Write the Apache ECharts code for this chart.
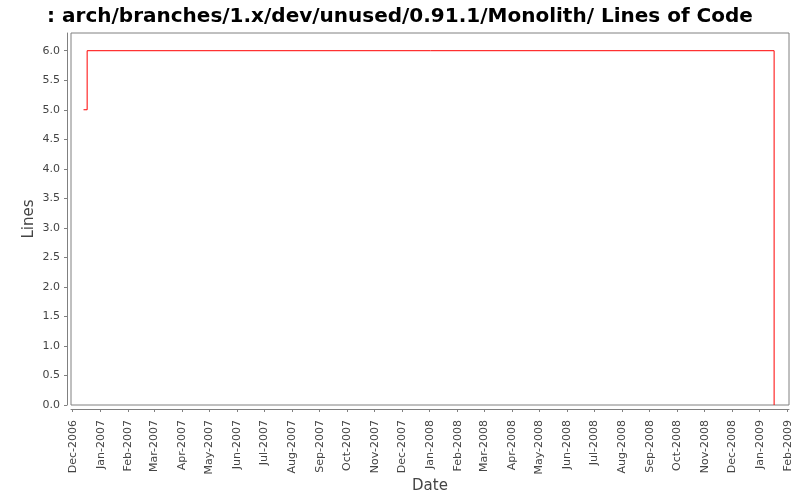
<!DOCTYPE html>
<html>
<head>
<meta charset="utf-8">
<script src="https://cdn.jsdelivr.net/npm/echarts@6/dist/echarts.min.js"></script>
<style>html,body{margin:0;padding:0;background:#fff;}#c{width:800px;height:500px;}</style>
</head>
<body>
<div id="c"></div>
<script>
var titleText = ': arch/branches/1.x/dev/unused/0.91.1/Monolith/ Lines of Code';
var dates = ['2006-12-13', '2006-12-17', '2009-01-17'];
var lines = [5, 6, 0];
var yTicks = [0, 0.5, 1, 1.5, 2, 2.5, 3, 3.5, 4, 4.5, 5, 5.5, 6];
var monthTicks = ['2006-12','2007-01','2007-02','2007-03','2007-04','2007-05','2007-06','2007-07','2007-08','2007-09','2007-10','2007-11','2007-12','2008-01','2008-02','2008-03','2008-04','2008-05','2008-06','2008-07','2008-08','2008-09','2008-10','2008-11','2008-12','2009-01','2009-02'];
var monthNames = ['Jan','Feb','Mar','Apr','May','Jun','Jul','Aug','Sep','Oct','Nov','Dec'];

function ts(s) {
  var p = s.split('-').map(Number);
  return new Date(p[0], p[1] - 1, p[2] || 1).getTime();
}
var tickTs = monthTicks.map(ts);
var seriesData = dates.map(function (d, i) { return [ts(d), lines[i]]; });
var xMin = new Date(2006, 10, 29, 2).getTime();
var xMax = new Date(2009, 1, 2, 12).getTime();

var chart = echarts.init(document.getElementById('c'), null, {renderer: 'canvas'});
chart.setOption({
  animation: false,
  backgroundColor: '#ffffff',
  title: {
    text: titleText,
    left: 'center',
    top: 2,
    textStyle: {fontFamily: 'DejaVu Sans', fontWeight: 'bold', fontSize: 20, color: '#000'}
  },
  grid: {
    left: 71, right: 11, top: 33, bottom: 95,
    outerBoundsMode: 'none',
    containLabel: false,
    show: true, borderColor: '#808080', borderWidth: 1, backgroundColor: '#ffffff'
  },
  xAxis: {
    type: 'value',
    min: xMin, max: xMax,
    offset: 4,
    name: 'Date',
    nameLocation: 'middle',
    nameGap: 70,
    nameMoveOverlap: false,
    nameTextStyle: {fontFamily: 'DejaVu Sans', fontSize: 15, color: '#444'},
    axisLine: {show: true, onZero: false, lineStyle: {color: '#808080', width: 1}},
    axisTick: {show: true, length: 3, lineStyle: {color: '#808080'}, customValues: tickTs},
    axisLabel: {
      customValues: tickTs,
      rotate: 90,
      margin: 11,
      fontFamily: 'DejaVu Sans', fontSize: 11, color: '#444',
      formatter: function (v) {
        var d = new Date(v);
        return monthNames[d.getMonth()] + '-' + d.getFullYear();
      }
    },
    splitLine: {show: false}
  },
  yAxis: {
    type: 'value',
    min: 0, max: 6.3,
    offset: 4,
    name: 'Lines',
    nameLocation: 'middle',
    nameGap: 30,
    nameMoveOverlap: false,
    nameRotate: 90,
    nameTextStyle: {fontFamily: 'DejaVu Sans', fontSize: 15, color: '#444'},
    axisLine: {show: true, onZero: false, lineStyle: {color: '#808080', width: 1}},
    axisTick: {show: true, length: 3, lineStyle: {color: '#808080'}, customValues: yTicks},
    axisLabel: {
      customValues: yTicks,
      margin: 7,
      fontFamily: 'DejaVu Sans', fontSize: 11, color: '#444',
      formatter: function (v) { return v.toFixed(1); }
    },
    splitLine: {show: false}
  },
  series: [{
    type: 'line',
    step: 'end',
    data: seriesData,
    showSymbol: false,
    symbol: 'none',
    lineStyle: {color: '#ff0000', width: 1},
    itemStyle: {color: '#ff0000'}
  }]
});
</script>
</body>
</html>
